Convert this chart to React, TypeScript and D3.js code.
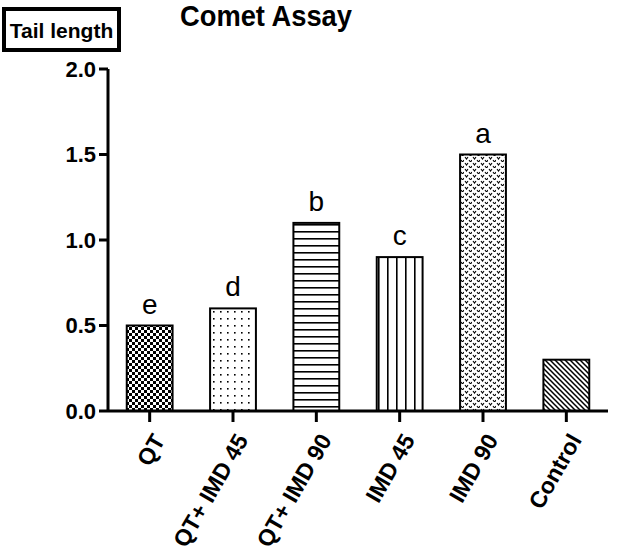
import React from 'react';
import * as d3 from 'd3';

// values
const categories = ['QT', 'QT+ IMD 45', 'QT+ IMD 90', 'IMD 45', 'IMD 90', 'Control'];
const tailLength = [0.5, 0.6, 1.1, 0.9, 1.5, 0.3];
const letters = ['e', 'd', 'b', 'c', 'a', ''];
const patternIds = ['checker', 'dots', 'hlines', 'vlines', 'vees', 'diag'];
const yTicks = [0, 0.5, 1.0, 1.5, 2.0];

const W = 629;
const H = 558;
const margin = { top: 69, left: 108, right: 21, bottom: 147 };
const font = '"Liberation Sans", Arial, Helvetica, sans-serif';

const App: React.FC = () => {
    const x = d3.scaleBand<string>()
        .domain(categories)
        .range([margin.left, W - margin.right])
        .paddingInner(0.45)
        .paddingOuter(0.225);

    const y = d3.scaleLinear()
        .domain([0, 2])
        .range([H - margin.bottom, margin.top]);

    const y0 = y(0);

    return (
        <svg width={W} height={H} style={{ position: 'absolute', left: 0, top: 0, background: '#fff' }}>
            <defs>
                <pattern id="checker" width={6} height={6} patternUnits="userSpaceOnUse">
                    <rect width={6} height={6} fill="#fff" />
                    <rect width={3} height={3} fill="#000" />
                    <rect x={3} y={3} width={3} height={3} fill="#000" />
                </pattern>
                <pattern id="dots" width={7} height={7} patternUnits="userSpaceOnUse">
                    <rect width={7} height={7} fill="#fff" />
                    <rect x={3} y={3} width={1.6} height={1.6} fill="#000" />
                </pattern>
                <pattern id="hlines" width={8} height={7} patternUnits="userSpaceOnUse">
                    <rect width={8} height={7} fill="#fff" />
                    <rect y={0} width={8} height={1.6} fill="#000" />
                </pattern>
                <pattern id="vlines" width={9} height={8} patternUnits="userSpaceOnUse">
                    <rect width={9} height={8} fill="#fff" />
                    <rect x={0} width={1.6} height={8} fill="#000" />
                </pattern>
                <pattern id="vees" width={8} height={6} patternUnits="userSpaceOnUse">
                    <rect width={8} height={6} fill="#fff" />
                    <path d="M1,1 L2.5,3 L4,1" fill="none" stroke="#000" strokeWidth={1.1} />
                    <path d="M5,4 L6.5,6 L8,4" fill="none" stroke="#000" strokeWidth={1.1} />
                </pattern>
                <pattern id="diag" width={5} height={5} patternUnits="userSpaceOnUse">
                    <rect width={5} height={5} fill="#fff" />
                    <path d="M-1,-1 L6,6 M-1,4 L1,6 M4,-1 L6,1" stroke="#000" strokeWidth={1.5} />
                </pattern>
            </defs>

            {/* title + y label box */}
            <text
                x={266}
                y={25.5}
                textAnchor="middle"
                fontFamily={font}
                fontWeight="bold"
                fontSize={30}
                textLength={172}
                lengthAdjust="spacingAndGlyphs"
            >
                Comet Assay
            </text>
            <rect x={4} y={9} width={115} height={41} fill="#fff" stroke="#000" strokeWidth={4} />
            <text x={61.5} y={38} textAnchor="middle" fontFamily={font} fontWeight="bold" fontSize={21}>
                Tail length
            </text>

            {/* bars */}
            {categories.map((c, i) => {
                const bx = x(c)!;
                const by = y(tailLength[i]);
                return (
                    <g key={c}>
                        <rect
                            x={bx}
                            y={by}
                            width={x.bandwidth()}
                            height={y0 - by}
                            fill={`url(#${patternIds[i]})`}
                            stroke="#000"
                            strokeWidth={2}
                        />
                        {letters[i] && (
                            <text
                                x={bx + x.bandwidth() / 2}
                                y={by - 12}
                                textAnchor="middle"
                                fontFamily={font}
                                fontSize={28}
                            >
                                {letters[i]}
                            </text>
                        )}
                    </g>
                );
            })}

            {/* y axis */}
            <line x1={margin.left} x2={margin.left} y1={y(2)} y2={y0} stroke="#000" strokeWidth={3} />
            {yTicks.map(t => (
                <g key={t}>
                    <line x1={margin.left - 9} x2={margin.left} y1={y(t)} y2={y(t)} stroke="#000" strokeWidth={3} />
                    <text
                        x={margin.left - 12}
                        y={y(t)}
                        dy="0.36em"
                        textAnchor="end"
                        fontFamily={font}
                        fontWeight="bold"
                        fontSize={22}
                    >
                        {t.toFixed(1)}
                    </text>
                </g>
            ))}

            {/* x axis */}
            <line x1={margin.left} x2={W - margin.right} y1={y0} y2={y0} stroke="#000" strokeWidth={3} />
            {categories.map(c => {
                const cx = x(c)! + x.bandwidth() / 2;
                return (
                    <g key={c}>
                        <line x1={cx} x2={cx} y1={y0} y2={y0 + 11} stroke="#000" strokeWidth={3} />
                        <text
                            transform={`translate(${cx + 16},${y0 + 29}) rotate(-60)`}
                            textAnchor="end"
                            fontFamily={font}
                            fontWeight="bold"
                            fontSize={23}
                        >
                            {c}
                        </text>
                    </g>
                );
            })}
        </svg>
    );
};

export default App;
